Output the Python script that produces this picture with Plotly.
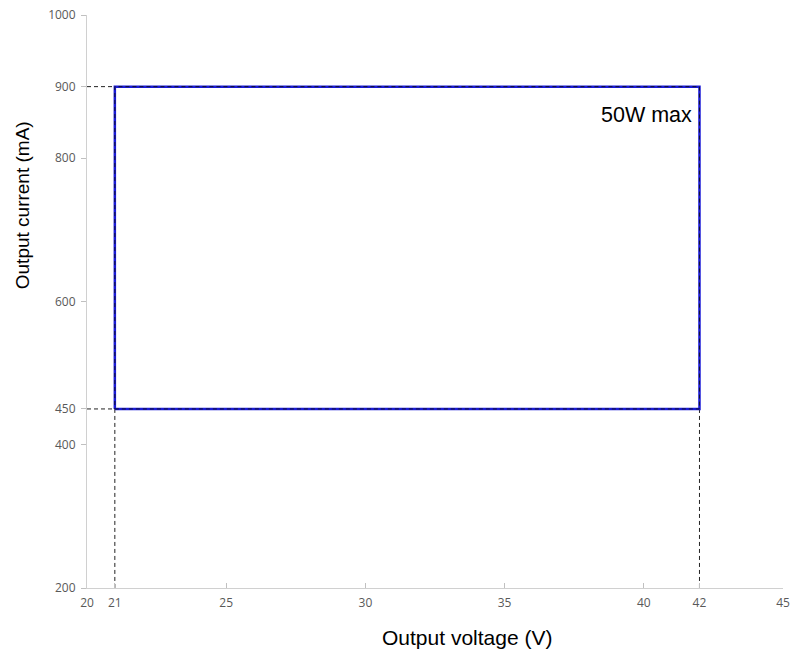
import plotly.graph_objects as go

# ---- data ----
volt_range = [21, 42]          # output voltage window (V)
curr_range = [450, 900]        # output current window (mA)
x_axis_range = [20, 45]
y_axis_range = [200, 1000]
x_ticks = [20, 21, 25, 30, 35, 40, 42, 45]
y_ticks = [200, 400, 450, 600, 800, 900, 1000]
label_text = "50W max"
x_title = "Output voltage (V)"
y_title = "Output current (mA)"

v0, v1 = volt_range
c0, c1 = curr_range
xa0 = x_axis_range[0]
ya0 = y_axis_range[0]

fig = go.Figure()

# dashed guide lines to the axes
guide_x = [xa0, v0, None, xa0, v0, None, v0, v0, None, v1, v1]
guide_y = [c1, c1, None, c0, c0, None, c0, ya0, None, c0, ya0]
fig.add_trace(go.Scatter(x=guide_x, y=guide_y, mode="lines",
                         line=dict(color="#222222", width=1, dash="4px,3px"),
                         hoverinfo="skip", showlegend=False))

# operating window rectangle
rect_x = [v0, v1, v1, v0, v0]
rect_y = [c0, c0, c1, c1, c0]
fig.add_trace(go.Scatter(x=rect_x, y=rect_y, mode="lines",
                         line=dict(color="#1a1ad6", width=2.5),
                         showlegend=False))
fig.add_trace(go.Scatter(x=rect_x, y=rect_y, mode="lines",
                         line=dict(color="#101030", width=1, dash="4px,3px"),
                         hoverinfo="skip", showlegend=False))

fig.add_annotation(x=v1, y=c1, xref="x", yref="y", text=label_text,
                   showarrow=False, xanchor="right", yanchor="top",
                   xshift=-5, yshift=-14,
                   font=dict(family="Liberation Sans, Arial", size=21.5, color="#000000"))

# axis titles (placed off-centre as in the original)
fig.add_annotation(x=0.546, y=0, xref="paper", yref="paper", text=x_title,
                   showarrow=False, xanchor="center", yanchor="middle", yshift=-49,
                   font=dict(family="Liberation Sans, Arial", size=21, color="#000000"))
fig.add_annotation(x=0, y=0.668, xref="paper", yref="paper", text=y_title,
                   showarrow=False, xanchor="center", yanchor="middle", xshift=-65,
                   textangle=-90,
                   font=dict(family="Liberation Sans, Arial", size=19, color="#000000"))

tick_font = dict(family="Open Sans, Liberation Sans", size=12, color="#595959")

fig.update_xaxes(range=x_axis_range, tickmode="array", tickvals=x_ticks,
                 ticktext=[str(t) for t in x_ticks],
                 showgrid=False, zeroline=False, automargin=False,
                 showline=True, linecolor="#d0d0d0", linewidth=1,
                 ticks="inside", ticklen=5, tickcolor="#c0c0c0",
                 tickfont=tick_font, ticklabeloverflow="allow",
                 ticklabelstandoff=4)
fig.update_yaxes(range=y_axis_range, tickmode="array", tickvals=y_ticks,
                 ticktext=[str(t) for t in y_ticks],
                 showgrid=False, zeroline=False, automargin=False,
                 showline=True, linecolor="#d0d0d0", linewidth=1,
                 ticks="outside", ticklen=5, tickcolor="#c0c0c0",
                 tickfont=tick_font, ticklabeloverflow="allow",
                 ticklabelstandoff=3)

fig.update_layout(width=805, height=655,
                  margin=dict(l=87, r=22, t=15, b=67),
                  plot_bgcolor="white", paper_bgcolor="white")

fig.write_html("out.html", config={"displayModeBar": False},
               post_script="document.body.style.margin='0';")
